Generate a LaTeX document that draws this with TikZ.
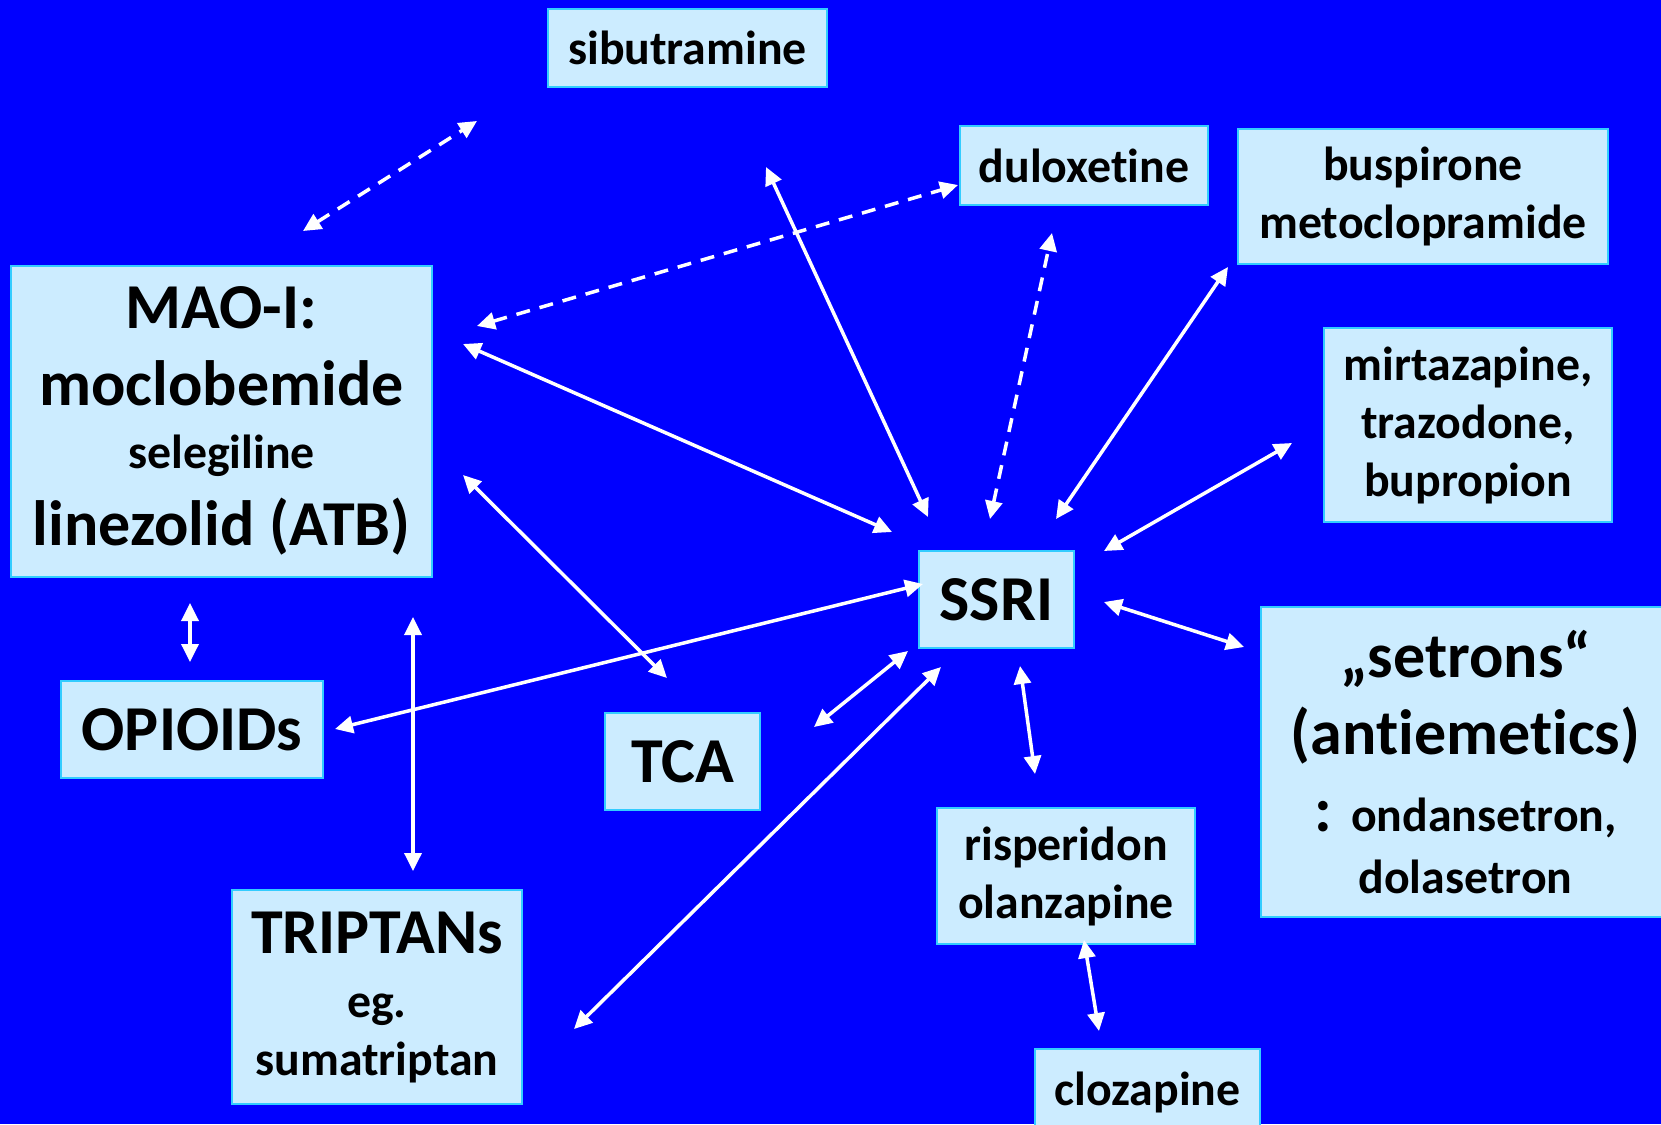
\documentclass[tikz,border=0pt]{standalone}
\usepackage{fontspec}
\setmainfont{Carlito}[Ligatures={TeX,NoCommon}]
\usetikzlibrary{arrows.meta}
\definecolor{slideblue}{HTML}{0000FF}
\definecolor{boxfill}{HTML}{CCECFF}
\definecolor{boxline}{HTML}{33CCFF}
\newcommand{\bigtxt}{\fontsize{64}{77}\selectfont}
\newcommand{\smalltxt}{\fontsize{47.8}{58}\selectfont}

\begin{document}
\begin{tikzpicture}[x=1pt, y=-1pt,
    drug/.style={fill=boxfill, draw=boxline, line width=2pt, align=center,
                 inner sep=0pt, font=\bfseries\smalltxt},
    bigdrug/.style={drug, font=\bfseries\bigtxt},
    link/.style={draw=white, line width=3.5pt,
                 {Triangle[length=18pt,width=17pt]}-{Triangle[length=18pt,width=17pt]}},
    maybe/.style={link, dash pattern=on 14pt off 10pt}]

  \useasboundingbox (0,0) rectangle (1661,1124);
  \fill[slideblue] (0,0) rectangle (1661,1124);

  % drug boxes
  \node[drug, minimum width=279pt, minimum height=78pt] (sib) at (687.5,48) {sibutramine};
  \node[drug, minimum width=248pt, minimum height=79pt] (dul) at (1084,165.5) {duloxetine};
  \node[drug, minimum width=370pt, minimum height=135pt] (busp) at (1423,196.5)
    {buspirone\\metoclopramide};
  \node[drug, minimum width=288pt, minimum height=194pt] (mirt) at (1468,425)
    {mirtazapine,\\trazodone,\\bupropion};
  \node[bigdrug, minimum width=421pt, minimum height=311pt] (mao) at (221.5,421)
    {MAO-I:\\moclobemide\\[-14pt]{\smalltxt selegiline}\\linezolid (ATB)};
  \node[bigdrug, minimum width=155pt, minimum height=97pt] (ssri) at (996.5,599.5) {SSRI};
  \node[bigdrug, minimum width=409pt, minimum height=310pt] (setr) at (1465.5,762)
    {„setrons“\\(antiemetics)\\: {\smalltxt ondansetron,}\\[-15pt]{\smalltxt dolasetron}};
  \node[bigdrug, minimum width=262pt, minimum height=97pt] (opi) at (192,729.5) {OPIOIDs};
  \node[bigdrug, minimum width=155pt, minimum height=97pt] (tca) at (682.5,761.5) {TCA};
  \node[drug, minimum width=290pt, minimum height=214pt] (trip) at (377,997)
    {{\bigtxt TRIPTANs}\\[6pt]eg.\\sumatriptan};
  \node[drug, minimum width=258pt, minimum height=136pt] (risp) at (1066,876)
    {risperidon\\olanzapine};
  \node[drug, minimum width=225pt, minimum height=86pt] (cloz) at (1147.5,1092) {clozapine};

  % arrow ends
  \coordinate (mao-sib) at (303,231);    \coordinate (sib-mao) at (477,121);
  \coordinate (mao-dul) at (477,326);    \coordinate (dul-mao) at (958,185);
  \coordinate (dul-ssri) at (1052,233);  \coordinate (ssri-dul) at (990,519);
  \coordinate (mao-ssri) at (463,344);   \coordinate (ssri-mao) at (892,532);
  \coordinate (sib-ssri) at (766,167);   \coordinate (ssri-sib) at (928,517);
  \coordinate (busp-ssri) at (1228,267); \coordinate (ssri-busp) at (1056,519);
  \coordinate (mirt-ssri) at (1292,443); \coordinate (ssri-mirt) at (1104,551);
  \coordinate (setr-ssri) at (1244,647); \coordinate (ssri-setr) at (1104,602);
  \coordinate (mao-tca) at (463,475);    \coordinate (tca-mao) at (667,678);
  \coordinate (opi-ssri) at (335,729);   \coordinate (ssri-opi) at (923,584);
  \coordinate (tca-ssri) at (814,727);   \coordinate (ssri-tca) at (908,651);
  \coordinate (trip-ssri) at (574,1029); \coordinate (ssri-trip) at (941,667);
  \coordinate (ssri-risp) at (1020,666); \coordinate (risp-ssri) at (1035,774);
  \coordinate (risp-cloz) at (1084,940); \coordinate (cloz-risp) at (1099,1031);
  \coordinate (mao-opi) at (190,603);    \coordinate (opi-mao) at (190,662);
  \coordinate (mao-trip) at (413,617);   \coordinate (trip-mao) at (413,871);

  % interactions
  \draw[maybe] (mao-sib) -- (sib-mao);
  \draw[maybe] (mao-dul) -- (dul-mao);
  \draw[maybe] (ssri-dul) -- (dul-ssri);
  \draw[link] (mao-ssri) -- (ssri-mao);
  \draw[link] (sib-ssri) -- (ssri-sib);
  \draw[link] (busp-ssri) -- (ssri-busp);
  \draw[link] (mirt-ssri) -- (ssri-mirt);
  \draw[link] (setr-ssri) -- (ssri-setr);
  \draw[link] (mao-tca) -- (tca-mao);
  \draw[link] (opi-ssri) -- (ssri-opi);
  \draw[link] (tca-ssri) -- (ssri-tca);
  \draw[link] (trip-ssri) -- (ssri-trip);
  \draw[link] (ssri-risp) -- (risp-ssri);
  \draw[link] (risp-cloz) -- (cloz-risp);
  \draw[link] (mao-opi) -- (opi-mao);
  \draw[link] (mao-trip) -- (trip-mao);
\end{tikzpicture}
\end{document}
